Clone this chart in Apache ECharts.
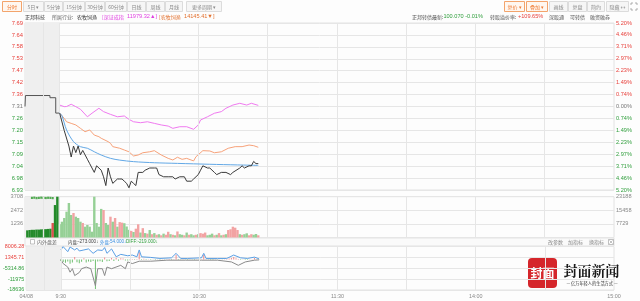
<!DOCTYPE html>
<html><head><meta charset="utf-8">
<script src="https://cdn.jsdelivr.net/npm/echarts@6/dist/echarts.min.js"></script>
<style>html,body{margin:0;padding:0;background:#fdfdfd;}#c{width:640px;height:301px;}</style>
</head><body><div id="c"></div>
<script>
// ---------- data ----------
const priceTicks = ['6.93','6.98','7.04','7.09','7.15','7.20','7.26','7.31','7.36','7.42','7.47','7.53','7.58','7.64','7.69'];
const pctTicks = ['5.20%','4.46%','3.71%','2.97%','2.23%','1.49%','0.74%','0.00%','0.74%','1.49%','2.23%','2.97%','3.71%','4.46%','5.20%'];
const volRightTicks = ['', '7729', '15458', '23188'];
const indTicks = ['-18636','-11975','-5314.86','1345.71','8006.28'];
const xTickValues = [-15, 0, 60, 120, 180, 240];
const xTickLabels = ['04/08','9:30','10:30','11:30','14:00','15:00'];
const xGridLines = [0, 30, 60, 90, 120, 150, 180, 210];

// pre-market (call auction) price, minutes relative to 9:30
const preT = [-15, -14.8, -4.2, -1.7, 0];
const preP = [7.31, 7.36, 7.35, 7.28, 7.28];

// intraday price
const priceT = [0,2,4,5,6,7,8,9,10,12,13,15,16,18,19,20,21,22,23,25,26,27,28,29,30,31,32,33,34,36,37,39,41,42,43,45,47,49,50,52,54,55,57,58,60,61,62,64,65,67,68,70,72,74,75,78,79,80,82,83,84,85,86];
const priceV = [7.28,7.20,7.13,7.08,7.13,7.10,7.13,7.09,7.11,7.07,7.05,7.01,7.04,7.02,6.99,6.95,7.03,6.99,6.96,6.98,6.98,6.98,6.97,6.96,6.94,6.97,6.96,6.95,7.01,7.01,7.02,7.03,7.03,7.03,7.00,6.99,6.99,6.99,6.98,6.99,6.99,6.97,6.97,6.98,7.00,7.02,7.04,7.03,7.03,7.01,7.00,7.01,7.01,7.00,7.01,7.03,7.04,7.03,7.04,7.04,7.06,7.05,7.05];

// average price
const avgT = [0,1,3,6,9,12,15,18,22,26,32,41,51,65,77,86];
const avgV = [7.280,7.268,7.203,7.150,7.127,7.120,7.104,7.089,7.074,7.066,7.059,7.054,7.051,7.047,7.044,7.042];

// overlay: 深证成指 (% change)
const szT = [0,2,3,5,7,9,12,14,17,19,22,25,28,30,32,35,38,41,44,47,49,52,55,58,60,61,64,67,70,72,75,78,81,83,86];
const szV = [0.09,-0.01,0.00,0.14,-0.01,-0.17,-0.64,-0.42,-0.11,-0.32,-0.49,-0.64,-0.59,-0.80,-0.95,-1.01,-0.95,-1.05,-1.15,-1.22,-1.36,-1.26,-1.26,-1.42,-1.15,-0.84,-0.64,-0.42,-0.32,-0.11,0.09,0.20,0.09,0.20,0.07];

// overlay: 农牧饲渔 (% change)
const indusT = [0,2,3,5,7,9,11,13,15,17,18,21,22,23,26,28,30,32,34,36,39,41,44,47,49,51,53,55,58,59,62,65,67,70,73,76,79,82,84,86];
const indusV = [-0.42,-0.74,-0.95,-1.05,-1.15,-1.36,-1.57,-1.46,-1.78,-1.88,-1.98,-2.19,-2.29,-2.50,-2.60,-2.71,-2.82,-3.08,-3.02,-2.88,-2.82,-2.75,-3.02,-3.23,-3.33,-3.16,-3.29,-3.23,-3.39,-3.13,-2.75,-2.77,-2.88,-2.82,-2.60,-2.50,-2.50,-2.40,-2.44,-2.54];

// volume (hands)
const preVolT = [-14,-13,-12,-11,-10,-9,-8,-7,-6,-5,-4,-3,-2,-1];
const preVolV = [650,680,700,700,720,720,740,750,760,780,800,1318,2950,3708];
const preVolDir = 'GGGGGGGGGGGRGG';
const dashT = [-12,-11,-10,-9,-8,-7,-6,-5,-4,-3];
const dashV = [3600,3620,3580,3600,3620,3600,3590,3610,3600,3580];
const volV = [1200,1436,1773,2345,3136,2045,2227,1891,1773,1436,
  1318,982,1136,982,527,3708,1318,982,2600,2500,
  1318,1136,1891,1436,1773,982,1400,1350,1300,1000,
  700,600,500,800,1200,450,850,400,350,680,
  300,400,250,300,200,350,250,520,300,250,
  200,550,300,250,200,450,250,300,200,250,
  300,400,350,450,200,250,350,200,250,400,
  200,250,300,680,750,980,890,680,300,250,
  300,380,200,300,250,320,200];
const volDir = 'GGGGGGRGGG'+'RGGGGGGGGR'+'GGRGRGRRGG'+'GRGRRGRGRG'+'RGRGRGRRGR'+'GRGGRGRGGR'+'GRRRGGGRGR'+'GRGRRRRRGR'+'GGRRGGR';

// 内外盘差 indicator
const outerT = [0,1,3,4,6,7,8,10,12,14,16,18,19,20,22,24,26,29,31,33,34,35,39,43,48,50,52,55,61,62,63,68,72,75,78,81,84,86];
const outerV = [5900,7900,4836,7700,5900,6970,5275,5900,6531,3830,5900,5590,7348,3830,6531,1695,3203,2324,2763,1695,5900,1695,1319,690,1068,3830,690,690,1068,3830,690,690,690,2763,1068,690,1507,440];
const innerT = [0,1,3,4,5,6,8,9,11,13,15,16,18,19,20,22,26,28,29,31,34,39,46,54,61,68,74,77,80,84,86];
const innerV = [0,-2449,-4584,-7724,-5589,-9797,-7913,-5589,-4584,-5589,-16077,-5589,-5589,-9797,-4584,-5589,-3517,-5589,-1444,-2449,-1005,-1005,-377,-377,-377,-377,-1444,-3517,-1444,-377,-188];
const diffV = [-800,-1500,-2000,-1200,-2500,-1800,1500,-1600,-2200,-1400,
  800,-1800,-1200,-1500,-900,-18000,-1200,-1000,-1500,1200,
  -1000,-900,1000,-800,900,-700,800,700,-600,-500,
  -400,300,-300,400,4500,-300,500,-200,200,-300,
  150,-200,150,-200,150,-150,200,300,-200,150,
  3000,-200,-150,200,-150,-200,150,-150,-200,150,
  -200,200,3000,250,-150,-200,-250,150,-150,200,
  -150,200,300,600,900,1500,800,400,-200,150,
  -200,-250,150,200,900,150,-150];

// ---------- styles ----------
const RED = '#e8413c', GREEN = '#2f9e3c', NEUTRAL = '#777';
const CJK = '"Noto Sans CJK SC", "Noto Sans", sans-serif';
const NUM = 'Arial, "Liberation Sans", sans-serif';
const GRIDC = '#e6e6e6';
const L = 25, R = 26;
const XMIN = -15, XMAX = 240;

const zip = (a, b) => a.map((v, i) => [v, b[i]]);

function tickRich(fs) {
  return {
    r: {color: RED, fontSize: fs, fontFamily: NUM},
    g: {color: GREEN, fontSize: fs, fontFamily: NUM},
    n: {color: NEUTRAL, fontSize: fs, fontFamily: NUM}
  };
}

const xBase = (gi, showLabels) => ({
  type: 'value', gridIndex: gi, min: XMIN, max: XMAX, interval: 15,
  axisLine: {show: false}, axisTick: {show: false},
  splitLine: {show: false},
  axisLabel: showLabels ? {
    show: true, fontSize: 5.4, color: '#888', fontFamily: NUM, margin: 4,
    showMinLabel: true, showMaxLabel: true,
    formatter: v => {
      for (let i = 0; i < xTickValues.length; i++) if (Math.abs(v - xTickValues[i]) < 0.01) return xTickLabels[i];
      return '';
    }
  } : {show: false}
});

const hiddenY = (gi, min, max) => ({type: 'value', gridIndex: gi, min, max, show: false, splitLine: {show: false}});

const preShade = (gi) => ({
  type: 'line', xAxisIndex: gi, yAxisIndex: gi === 0 ? 0 : (gi === 1 ? 4 : 6), data: [], z: 1, silent: true,
  markArea: {silent: true, itemStyle: {color: '#efefef'}, data: [[{xAxis: XMIN}, {xAxis: 0}]]},
  markLine: {silent: true, symbol: 'none', label: {show: false}, lineStyle: {color: GRIDC, type: 'solid', width: 1},
    data: [{xAxis: -7}].concat(xGridLines.map(v => ({xAxis: v})))}
});

const option = {
  animation: false,
  backgroundColor: '#fdfdfd',
  grid: [
    {left: L, right: R, top: 23, height: 167, show: true, borderColor: '#e2e2e2', borderWidth: 1},
    {left: L, right: R, top: 196.7, height: 40.8, show: true, borderColor: '#e2e2e2', borderWidth: 1},
    {left: L, right: R, top: 246.5, height: 43.5, show: true, borderColor: '#e2e2e2', borderWidth: 1}
  ],
  xAxis: [xBase(0, false), xBase(1, false), xBase(2, true)],
  yAxis: [
    hiddenY(0, 7.31 * 0.948, 7.31 * 1.052),
    hiddenY(0, -5.2, 5.2),
    { type: 'value', gridIndex: 0, position: 'left', min: 0, max: 14, interval: 1,
      axisLine: {show: false}, axisTick: {show: false},
      splitLine: {show: true, lineStyle: {color: GRIDC}},
      axisLabel: {margin: 2, fontSize: 5.8, rich: tickRich(5.8),
        formatter: v => { const i = Math.round(v); const c = i > 7 ? 'r' : (i < 7 ? 'g' : 'n'); return '{' + c + '|' + priceTicks[i] + '}'; }}},
    { type: 'value', gridIndex: 0, position: 'right', min: 0, max: 14, interval: 1,
      axisLine: {show: false}, axisTick: {show: false}, splitLine: {show: false},
      axisLabel: {margin: 2, fontSize: 5.6, rich: tickRich(5.6),
        formatter: v => { const i = Math.round(v); const c = i > 7 ? 'r' : (i < 7 ? 'g' : 'n'); return '{' + c + '|' + pctTicks[i] + '}'; }}},
    { type: 'value', gridIndex: 1, position: 'left', min: 0, max: 3708, interval: 1236,
      axisLine: {show: false}, axisTick: {show: false},
      splitLine: {show: true, lineStyle: {color: GRIDC}},
      axisLabel: {margin: 2, fontSize: 5.6, color: '#888', fontFamily: NUM, formatter: v => v === 0 ? '' : String(v)}},
    { type: 'value', gridIndex: 1, position: 'right', min: 0, max: 3, interval: 1,
      axisLine: {show: false}, axisTick: {show: false}, splitLine: {show: false},
      axisLabel: {margin: 2, fontSize: 5.6, color: '#888', fontFamily: NUM, formatter: v => volRightTicks[Math.round(v)]}},
    hiddenY(2, -18636, 8006.28),
    { type: 'value', gridIndex: 2, position: 'left', min: 0, max: 4, interval: 1,
      axisLine: {show: false}, axisTick: {show: false},
      splitLine: {show: true, lineStyle: {color: GRIDC}},
      axisLabel: {margin: 2, fontSize: 5.4, rich: tickRich(5.4),
        formatter: v => { const i = Math.round(v); return '{' + (i >= 3 ? 'r' : 'g') + '|' + indTicks[i] + '}'; }}}
  ],
  series: [
    preShade(0),
    {type: 'line', xAxisIndex: 0, yAxisIndex: 0, data: zip(preT, preP), step: 'end', symbol: 'none',
      lineStyle: {color: '#555', width: 1}, z: 3},
    {type: 'line', xAxisIndex: 0, yAxisIndex: 0, data: zip(priceT, priceV), symbol: 'none',
      lineStyle: {color: '#3a3a3a', width: 1}, z: 6},
    {type: 'line', xAxisIndex: 0, yAxisIndex: 0, data: zip(avgT, avgV), symbol: 'none', smooth: 0.3,
      lineStyle: {color: '#62a8e6', width: 1}, z: 5},
    {type: 'line', xAxisIndex: 0, yAxisIndex: 1, data: zip(szT, szV), symbol: 'none',
      lineStyle: {color: '#f07af0', width: 1}, z: 4},
    {type: 'line', xAxisIndex: 0, yAxisIndex: 1, data: zip(indusT, indusV), symbol: 'none',
      lineStyle: {color: '#f7a27a', width: 1}, z: 4},

    preShade(1),
    {type: 'bar', xAxisIndex: 1, yAxisIndex: 4, stack: 'v', barWidth: 2.4, z: 3,
      data: preVolT.map((t, i) => ({value: [t, preVolV[i]], itemStyle: {color: preVolDir[i] === 'R' ? '#e05050' : '#238a2a'}}))},
    {type: 'bar', xAxisIndex: 1, yAxisIndex: 4, stack: 'v', barWidth: 1.5, z: 3,
      data: volV.map((v, i) => ({value: [i, v], itemStyle: {color: volDir[i] === 'R' ? '#f2a3a3' : '#96d096'}}))},
    {type: 'scatter', xAxisIndex: 1, yAxisIndex: 4, symbol: 'rect', symbolSize: [2, 2.2], z: 3,
      itemStyle: {color: '#2a9a2a'}, data: zip(dashT, dashV)},

    preShade(2),
    {type: 'bar', xAxisIndex: 2, yAxisIndex: 6, barWidth: 1, z: 3,
      data: diffV.map((v, i) => ({value: [i, v], itemStyle: {color: v >= 0 ? '#f08a8a' : '#70bf70'}}))},
    {type: 'line', xAxisIndex: 2, yAxisIndex: 6, data: zip(outerT, outerV), symbol: 'none',
      lineStyle: {color: '#5a9fe4', width: 1}, z: 4},
    {type: 'line', xAxisIndex: 2, yAxisIndex: 6, data: zip(innerT, innerV), symbol: 'none',
      lineStyle: {color: '#8a8a8a', width: 1}, z: 4}
  ],
  graphic: []
};

// ---------- toolbar / annotations ----------
const G = [];
function btn(text, x0, x1, active) {
  G.push({type: 'rect', shape: {x: x0 + 0.5, y: 1.5, width: x1 - x0, height: 10}, silent: true,
    style: {fill: active ? '#fff7f0' : '#f6f6f6', stroke: active ? '#f3a46c' : '#dcdcdc', lineWidth: 1}});
  G.push({type: 'text', silent: true, style: {text, x: (x0 + x1) / 2 + 0.5, y: 6.8, align: 'center', verticalAlign: 'middle',
    fill: active ? '#ef7a32' : '#8a8a8a', fontSize: 5, fontFamily: CJK}});
}
btn('分时', 2, 21, true);
btn('5日 ▾', 23, 43);
btn('5分钟', 44, 62);
btn('15分钟', 63, 84);
btn('30分钟', 85, 104);
btn('60分钟', 105, 126);
btn('日线', 127, 145);
btn('周线', 146, 164);
btn('月线', 165, 182);
btn('更多周期 ▾', 186, 221);
btn('复价 ▾', 504, 524, true);
btn('叠加 ▾', 526, 547, true);
btn('画线', 549, 567);
btn('复盘', 568, 586);
btn('简约', 587, 604);
btn('隐藏 ↔', 606, 628);
[[631,3,1,1],[637,3,-1,1],[631,10,1,-1],[637,10,-1,-1]].forEach(([x,y,dx,dy]) => {
  G.push({type: 'polyline', silent: true, shape: {points: [[x, y + 2 * dy], [x, y], [x + 2 * dx, y]]}, style: {stroke: '#999', lineWidth: 0.8, fill: null}});
});

function txt(text, x, y, fill, size, font, align) {
  G.push({type: 'text', silent: true, style: {text, x, y, fill, fontSize: size, fontFamily: font || CJK, align: align || 'left', verticalAlign: 'middle'}});
}
txt('正邦科技', 25, 16.8, '#333', 5);
txt('所属行业:', 52, 16.8, '#666', 5);
txt('农牧饲渔', 77, 16.8, '#333', 5);
G.push({type: 'text', silent: true, style: {x: 102, y: 16.8, verticalAlign: 'middle',
  text: '{c|[深证成指} {n|11979.32▲]}', rich: {c: {fill: '#e040e0', fontSize: 5, fontFamily: CJK}, n: {fill: '#e040e0', fontSize: 5.6, fontFamily: NUM}}}});
G.push({type: 'text', silent: true, style: {x: 159, y: 16.8, verticalAlign: 'middle',
  text: '{c|[农牧饲渔} {n|14145.41▼]}', rich: {c: {fill: '#e2702e', fontSize: 5, fontFamily: CJK}, n: {fill: '#e2702e', fontSize: 5.6, fontFamily: NUM}}}});
G.push({type: 'text', silent: true, style: {x: 412, y: 16.8, verticalAlign: 'middle',
  text: '{c|正邦转债最新:}{n|100.070 -0.01%}', rich: {c: {fill: '#555', fontSize: 5, fontFamily: CJK}, n: {fill: '#2f9e3c', fontSize: 5.6, fontFamily: NUM}}}});
G.push({type: 'text', silent: true, style: {x: 490, y: 16.8, verticalAlign: 'middle',
  text: '{c|转股溢价率:}{n| +109.65%}', rich: {c: {fill: '#555', fontSize: 5, fontFamily: CJK}, n: {fill: RED, fontSize: 5.6, fontFamily: NUM}}}});
txt('深股通', 549, 16.8, '#555', 5);
txt('可转债', 570, 16.8, '#555', 5);
txt('融资融券', 590, 16.8, '#555', 5);

G.push({type: 'circle', silent: true, shape: {cx: 28.5, cy: 27, r: 2}, style: {fill: '#f4f4f4', stroke: '#aaa', lineWidth: 0.6}});
G.push({type: 'rect', silent: true, shape: {x: 53.5, y: 25, width: 5, height: 4}, style: {fill: '#f4f4f4', stroke: '#aaa', lineWidth: 0.6}});

// indicator title bar
G.push({type: 'rect', silent: true, shape: {x: L, y: 238, width: 640 - L - R, height: 8}, style: {fill: '#fafafa', stroke: '#e3e3e3', lineWidth: 1}});
G.push({type: 'rect', silent: true, shape: {x: 30.5, y: 239.5, width: 4, height: 4.5}, style: {fill: '#fff', stroke: '#999', lineWidth: 0.6}});
txt('内外盘差', 37, 242, '#666', 5);
G.push({type: 'text', silent: true, style: {x: 68, y: 242, verticalAlign: 'middle',
  text: '{c|内盘:}{n|-273.000↓}', rich: {c: {fill: '#444', fontSize: 4.4, fontFamily: CJK}, n: {fill: '#444', fontSize: 4.6, fontFamily: NUM}}}});
G.push({type: 'text', silent: true, style: {x: 100, y: 242, verticalAlign: 'middle',
  text: '{c|外盘:}{n|54.000↓}', rich: {c: {fill: '#3b8fe0', fontSize: 4.4, fontFamily: CJK}, n: {fill: '#3b8fe0', fontSize: 4.6, fontFamily: NUM}}}});
G.push({type: 'text', silent: true, style: {x: 126, y: 242, verticalAlign: 'middle',
  text: '{n|DIFF:-219.000↓}', rich: {n: {fill: '#2f9e3c', fontSize: 4.6, fontFamily: NUM}}}});
txt('改参数', 548, 242, '#888', 5);
txt('加指标', 568, 242, '#888', 5);
txt('换指标', 589, 242, '#888', 5);
G.push({type: 'rect', silent: true, shape: {x: 608.5, y: 239.5, width: 5, height: 5}, style: {fill: '#fff', stroke: '#999', lineWidth: 0.6}});
G.push({type: 'polyline', silent: true, shape: {points: [[609.5, 240.5], [612.5, 243.5]]}, style: {stroke: '#999', lineWidth: 0.6}});
G.push({type: 'polyline', silent: true, shape: {points: [[612.5, 240.5], [609.5, 243.5]]}, style: {stroke: '#999', lineWidth: 0.6}});

// watermark logo
G.push({type: 'rect', silent: true, shape: {x: 528, y: 258, width: 29, height: 30, r: 4}, style: {fill: '#d5262b'}});
G.push({type: 'text', silent: true, style: {text: '封面', x: 542.5, y: 273.5, align: 'center', verticalAlign: 'middle', fill: '#fff', fontSize: 12, fontWeight: 'bold', fontFamily: CJK}});
G.push({type: 'text', silent: true, style: {text: '封面新闻', x: 591.5, y: 271, align: 'center', verticalAlign: 'middle', fill: '#1a1a1a', fontSize: 14, fontWeight: 'bold', fontFamily: '"Noto Serif CJK SC", "Noto Sans CJK SC", serif'}});
G.push({type: 'text', silent: true, style: {text: '— 亿万年轻人的生活方式 —', x: 592, y: 283.5, align: 'center', verticalAlign: 'middle', fill: '#333', fontSize: 4.2, fontFamily: CJK}});

option.graphic = G;

const chart = echarts.init(document.getElementById('c'), null, {renderer: 'canvas'});
chart.setOption(option);
</script></body></html>
